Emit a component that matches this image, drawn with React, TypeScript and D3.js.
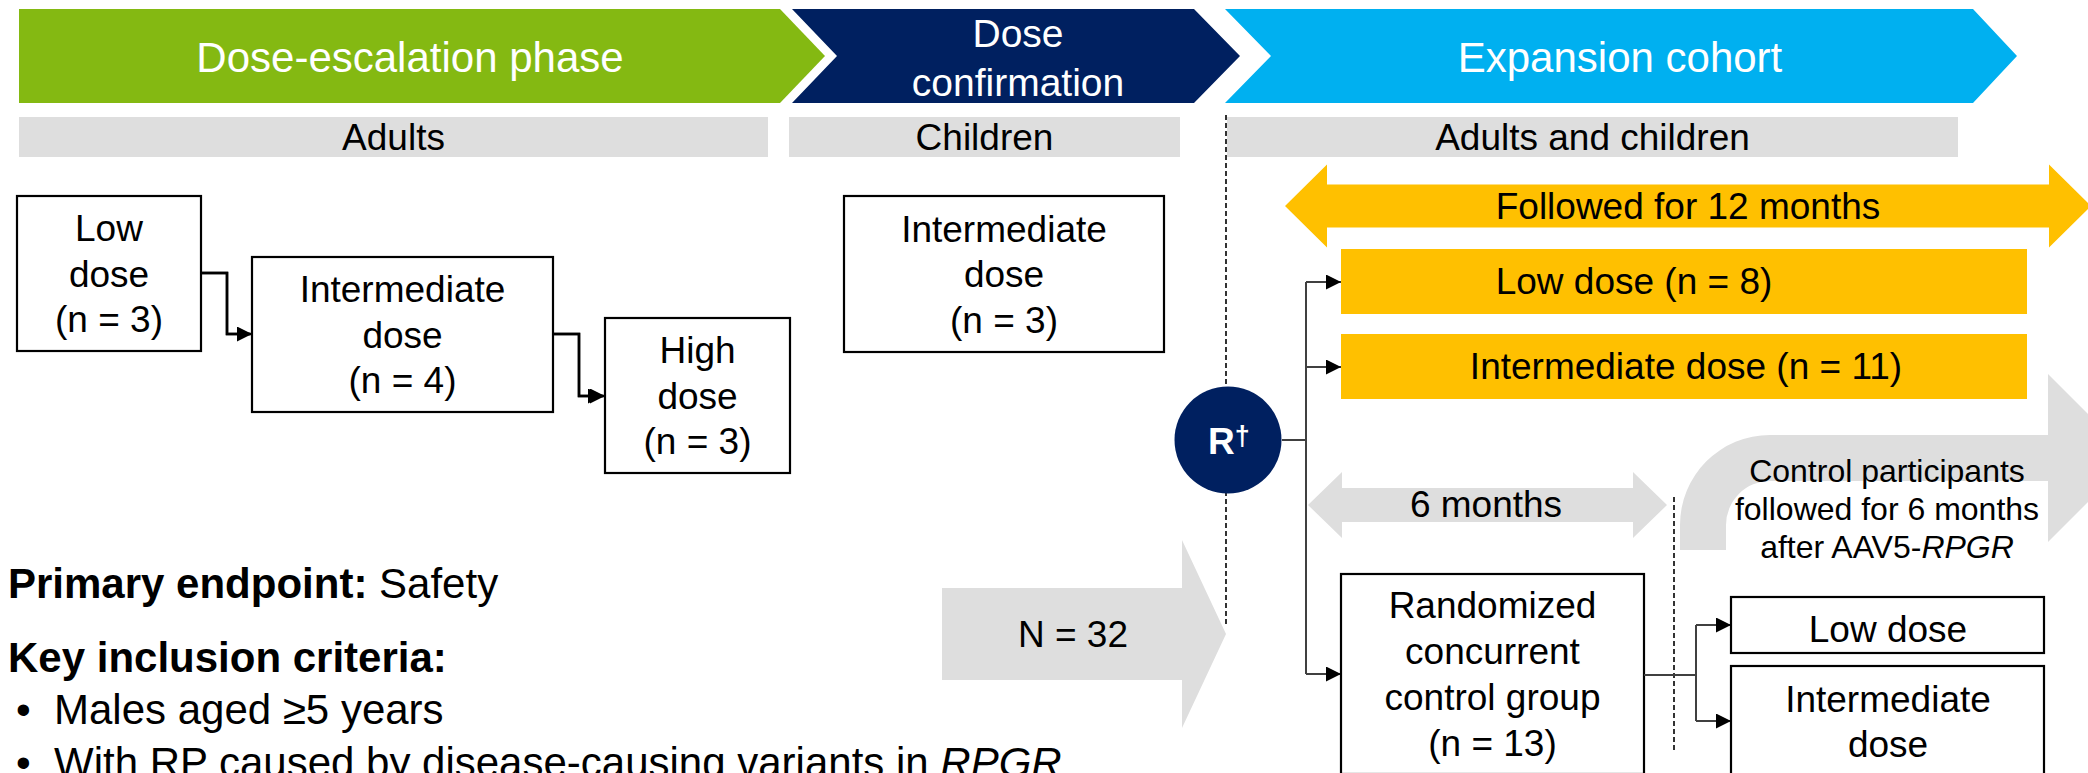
import { useEffect } from 'react';
import * as d3 from 'd3';

// study design content
const PHASES = ['Dose-escalation phase', 'Dose|confirmation', 'Expansion cohort'];
const POPULATIONS = ['Adults', 'Children', 'Adults and children'];
const ESCALATION_DOSES = ['Low', 'Intermediate', 'High'];
const ESCALATION_N = [3, 4, 3];
const CONFIRMATION_DOSE = 'Intermediate';
const CONFIRMATION_N = 3;
const EXPANSION_ARMS = ['Low dose', 'Intermediate dose'];
const EXPANSION_N = [8, 11];
const CONTROL_N = 13;
const TOTAL_N = 32;
const FOLLOW_UP = ['Followed for 12 months', '6 months'];
const CROSSOVER_ARMS = ['Low dose', 'Intermediate|dose'];
const CROSSOVER_NOTE = ['Control participants', 'followed for 6 months', 'after AAV5-'];

const W = 2088;
const H = 773;
const FONT = '"Liberation Sans", Arial, Helvetica, sans-serif';

const PHASE_COLORS = ['#84B912', '#002060', '#00B0F0'];
const GREY = '#DEDEDE';
const GOLD = '#FFC000';

const poly = d3.line<[number, number]>().curve(d3.curveLinearClosed);

const chevron = (x0: number, x1: number, y0: number, y1: number, notch: number, point: number) => {
  const m = (y0 + y1) / 2;
  return poly([[x0, y0], [x1, y0], [x1 + point, m], [x1, y1], [x0, y1], [x0 + notch, m]]);
};

const doubleArrow = (xl: number, xr: number, cy: number, shaft: number, head: number, len: number) =>
  poly([
    [xl, cy], [xl + len, cy - head], [xl + len, cy - shaft], [xr - len, cy - shaft], [xr - len, cy - head],
    [xr, cy], [xr - len, cy + head], [xr - len, cy + shaft], [xl + len, cy + shaft], [xl + len, cy + head],
  ]);

const rightArrow = (x0: number, xh: number, tip: number, cy: number, shaft: number, head: number) =>
  poly([[x0, cy - shaft], [xh, cy - shaft], [xh, cy - head], [tip, cy], [xh, cy + head], [xh, cy + shaft], [x0, cy + shaft]]);

// the bent arrow carrying controls over to treatment
const bentArrow = () => {
  const p = d3.path();
  const xo = 1680, xi = 1726, yb = 550, yt = 435, yi = 481, ro = 90, ri = 44, xh = 2048;
  p.moveTo(xo, yb);
  p.lineTo(xo, yt + ro);
  p.arcTo(xo, yt, xo + ro, yt, ro);
  p.lineTo(xh, yt);
  p.lineTo(xh, 374);
  p.lineTo(2132, 458);
  p.lineTo(xh, 542);
  p.lineTo(xh, yi);
  p.lineTo(xi + ri, yi);
  p.arcTo(xi, yi, xi, yi + ri, ri);
  p.lineTo(xi, yb);
  p.closePath();
  return p.toString();
};

const BoxText = ({ lines, cx, cy, gap = 45.5, size = 37, fill = '#000' }:
  { lines: string[]; cx: number; cy: number; gap?: number; size?: number; fill?: string }) => (
  <text textAnchor="middle" fontSize={size} fill={fill}>
    {lines.map((l, i) => (
      <tspan key={i} x={cx} y={cy + 13 + (i - (lines.length - 1) / 2) * gap}>{l}</tspan>
    ))}
  </text>
);

const App = () => {
  useEffect(() => {
    document.body.style.margin = '0';
    document.body.style.overflow = 'hidden';
  }, []);

  const chevrons = [
    { x0: 19, x1: 780, notch: 0, point: 45 },
    { x0: 792, x1: 1194, notch: 45, point: 46 },
    { x0: 1225, x1: 1973, notch: 46, point: 44 },
  ];
  const phaseText = [{ cx: 410, y: [72] }, { cx: 1018, y: [47, 96] }, { cx: 1620, y: [72] }];
  const bars = [{ x0: 19, x1: 768 }, { x0: 789, x1: 1180 }, { x0: 1227, x1: 1958 }];

  const escBoxes = [
    { x: 17, y: 196, w: 184, h: 155 },
    { x: 252, y: 257, w: 301, h: 155 },
    { x: 605, y: 318, w: 185, h: 155 },
  ];
  const confBox = { x: 844, y: 196, w: 320, h: 156 };
  const armBoxes = [{ y: 249, tx: 1634 }, { y: 334, tx: 1686 }];
  const ctrlBox = { x: 1341, y: 574, w: 303, h: 200 };
  const crossBoxes = [{ y: 597, h: 56 }, { y: 666, h: 111 }];

  const conn = 'M201,273H227V334H250 M553,334H579V396H603';

  return (
    <svg width={W} height={H} viewBox={`0 0 ${W} ${H}`} fontFamily={FONT}
      style={{ position: 'absolute', left: 0, top: 0, display: 'block', background: '#fff' }}>
      <defs>
        <marker id="ah" markerUnits="userSpaceOnUse" markerWidth={16} markerHeight={16}
          refX={15} refY={7.5} orient="auto">
          <path d="M0,0L15,7.5L0,15Z" fill="#000" />
        </marker>
      </defs>

      {/* phase chevrons */}
      {chevrons.map((c, i) => (
        <path key={i} d={chevron(c.x0, c.x1, 9, 103, c.notch, c.point) || ''} fill={PHASE_COLORS[i]} />
      ))}
      {PHASES.map((p, i) => (
        <text key={i} textAnchor="middle" fill="#fff" fontSize={i === 1 ? 39 : 42}>
          {p.split('|').map((l, j) => <tspan key={j} x={phaseText[i].cx} y={phaseText[i].y[j]}>{l}</tspan>)}
        </text>
      ))}

      {/* population bars */}
      {bars.map((b, i) => (
        <g key={i}>
          <rect x={b.x0} y={117} width={b.x1 - b.x0} height={40} fill={GREY} />
          <text x={(b.x0 + b.x1) / 2} y={150} textAnchor="middle" fontSize={37}>{POPULATIONS[i]}</text>
        </g>
      ))}

      {/* randomisation divider */}
      <line x1={1226} x2={1226} y1={115} y2={624} stroke="#000" strokeWidth={1.6} strokeDasharray="5 3" />
      <line x1={1674} x2={1674} y1={497} y2={750} stroke="#000" strokeWidth={1.6} strokeDasharray="5 3" />

      {/* dose escalation */}
      {escBoxes.map((b, i) => (
        <g key={i}>
          <rect x={b.x} y={b.y} width={b.w} height={b.h} fill="#fff" stroke="#000" strokeWidth={2.2} />
          <BoxText lines={[ESCALATION_DOSES[i], 'dose', `(n = ${ESCALATION_N[i]})`]} cx={b.x + b.w / 2} cy={b.y + b.h / 2} />
        </g>
      ))}
      <path d={conn} fill="none" stroke="#000" strokeWidth={2.5} markerEnd="url(#ah)" />
      <path d="M201,273H227V334H252" fill="none" stroke="#000" strokeWidth={2.5} markerEnd="url(#ah)" />
      <path d="M553,334H579V396H605" fill="none" stroke="#000" strokeWidth={2.5} markerEnd="url(#ah)" />

      {/* dose confirmation */}
      <rect x={confBox.x} y={confBox.y} width={confBox.w} height={confBox.h} fill="#fff" stroke="#000" strokeWidth={2.2} />
      <BoxText lines={[CONFIRMATION_DOSE, 'dose', `(n = ${CONFIRMATION_N})`]} cx={confBox.x + confBox.w / 2} cy={confBox.y + confBox.h / 2} />

      {/* enrolment arrow */}
      <path d={rightArrow(942, 1182, 1226, 634, 46, 94) || ''} fill={GREY} />
      <text x={1073} y={647} textAnchor="middle" fontSize={37}>{`N = ${TOTAL_N}`}</text>

      {/* follow-up arrows */}
      <path d={doubleArrow(1285, 2091, 206, 21.5, 41.5, 42) || ''} fill={GOLD} />
      <text x={1688} y={219} textAnchor="middle" fontSize={37}>{FOLLOW_UP[0]}</text>
      <path d={doubleArrow(1308, 1667, 505, 17, 33, 34) || ''} fill={GREY} />
      <text x={1486} y={517} textAnchor="middle" fontSize={37}>{FOLLOW_UP[1]}</text>
      <path d={bentArrow()} fill={GREY} />
      <text textAnchor="middle" fontSize={32}>
        <tspan x={1887} y={482}>{CROSSOVER_NOTE[0]}</tspan>
        <tspan x={1887} y={520}>{CROSSOVER_NOTE[1]}</tspan>
        <tspan x={1887} y={558}>{CROSSOVER_NOTE[2]}<tspan fontStyle="italic">RPGR</tspan></tspan>
      </text>

      {/* expansion arms */}
      {armBoxes.map((a, i) => (
        <g key={i}>
          <rect x={1341} y={a.y} width={686} height={65} fill={GOLD} />
          <text x={a.tx} y={a.y + 45} textAnchor="middle" fontSize={37}>{`${EXPANSION_ARMS[i]} (n = ${EXPANSION_N[i]})`}</text>
        </g>
      ))}

      {/* randomisation branches */}
      <g fill="none" stroke="#404040" strokeWidth={2}>
        <path d="M1282,440H1306 M1306,282V674" />
        {[282, 367, 674].map((y) => (
          <path key={y} d={`M1306,${y}H1341`} markerEnd="url(#ah)" />
        ))}
      </g>
      <circle cx={1228} cy={440} r={53.5} fill="#002060" />
      <text x={1229} y={454} textAnchor="middle" fill="#fff" fontWeight="bold" fontSize={37}>
        R<tspan fontSize={27} dy={-9}>†</tspan>
      </text>

      {/* concurrent control */}
      <rect x={ctrlBox.x} y={ctrlBox.y} width={ctrlBox.w} height={ctrlBox.h} fill="#fff" stroke="#000" strokeWidth={2.2} />
      <BoxText lines={['Randomized', 'concurrent', 'control group', `(n = ${CONTROL_N})`]}
        cx={ctrlBox.x + ctrlBox.w / 2} cy={674} gap={45.7} />
      <g fill="none" stroke="#404040" strokeWidth={2}>
        <path d="M1644,675H1696 M1696,625V721" />
        {[625, 721].map((y) => (
          <path key={y} d={`M1696,${y}H1731`} markerEnd="url(#ah)" />
        ))}
      </g>
      {crossBoxes.map((b, i) => (
        <g key={i}>
          <rect x={1731} y={b.y} width={313} height={b.h} fill="#fff" stroke="#000" strokeWidth={2.2} />
          <BoxText lines={CROSSOVER_ARMS[i].split('|')} cx={1888} cy={i === 0 ? 629 : 721.5} gap={45} />
        </g>
      ))}

      {/* endpoints and criteria */}
      <g fontSize={42}>
        <text x={8} y={598}><tspan fontWeight="bold">Primary endpoint:</tspan> Safety</text>
        <text x={8} y={672} fontWeight="bold">Key inclusion criteria:</text>
        <text x={16} y={724}>•</text>
        <text x={54} y={724}>Males aged ≥5 years</text>
        <text x={16} y={777}>•</text>
        <text x={54} y={777}>With RP caused by disease-causing variants in <tspan fontStyle="italic">RPGR</tspan></text>
      </g>
    </svg>
  );
};

export default App;
